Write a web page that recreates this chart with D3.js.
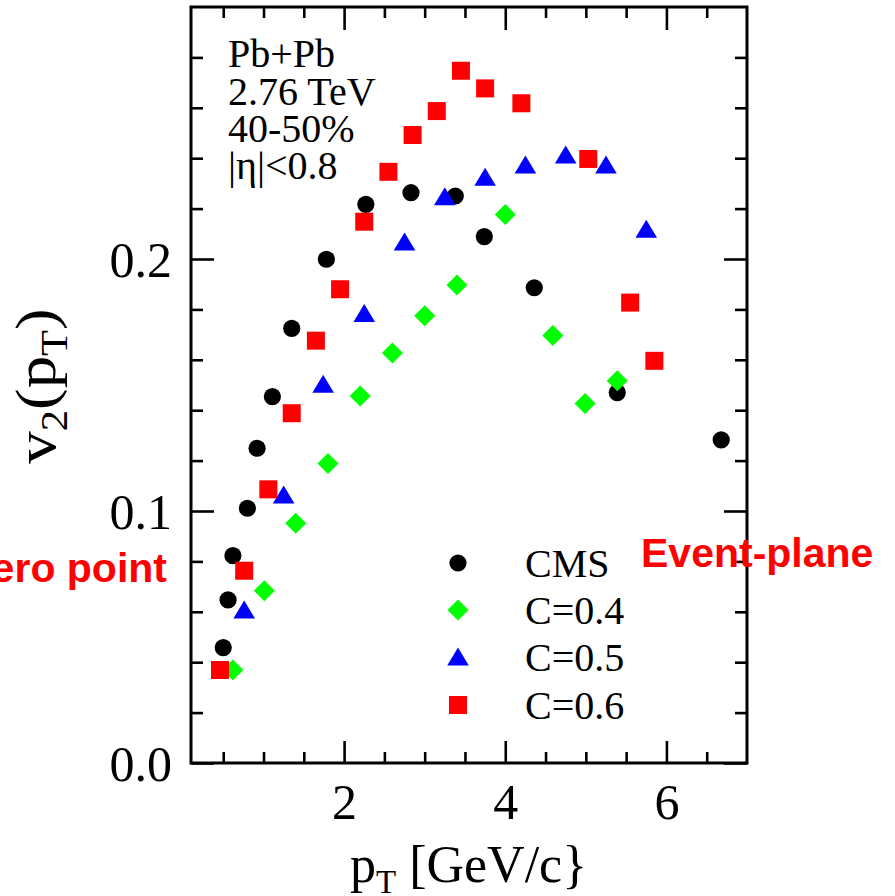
<!DOCTYPE html>
<html>
<head>
<meta charset="utf-8">
<script src="https://cdn.jsdelivr.net/npm/d3@7"></script>
<style>
  html, body { margin: 0; padding: 0; background: #fff; }
  svg { display: block; }
  text { font-family: "Liberation Serif", "Times New Roman", serif; fill: #000; }
</style>
</head>
<body>
<svg id="chart" width="895" height="896"></svg>
<script>
// ---------------- data ----------------
const cmsPt  = [0.50, 0.56, 0.62, 0.80, 0.92, 1.11, 1.35, 1.78, 2.27, 2.83, 3.38, 3.74, 4.36, 5.39, 6.68];
const cmsV2  = [0.0458, 0.0647, 0.0823, 0.1011, 0.1249, 0.1454, 0.1725, 0.1999, 0.2217, 0.2263, 0.2250, 0.2089, 0.1886, 0.1470, 0.1282];

const c04Pt  = [0.62, 1.01, 1.40, 1.80, 2.20, 2.60, 3.00, 3.40, 4.00, 4.59, 4.99, 5.39];
const c04V2  = [0.0369, 0.0684, 0.0951, 0.1188, 0.1456, 0.1627, 0.1775, 0.1897, 0.2177, 0.1696, 0.1427, 0.1517];

const c05Pt  = [0.76, 1.25, 1.74, 2.25, 2.75, 3.25, 3.75, 4.25, 4.75, 5.25, 5.75];
const c05V2  = [0.0607, 0.1063, 0.1503, 0.1784, 0.2067, 0.2247, 0.2324, 0.2373, 0.2413, 0.2373, 0.2118];

const c06Pt  = [0.46, 0.76, 1.06, 1.35, 1.65, 1.95, 2.25, 2.55, 2.85, 3.15, 3.45, 3.75, 4.20, 5.03, 5.55, 5.85];
const c06V2  = [0.0369, 0.0763, 0.1086, 0.1388, 0.1676, 0.1880, 0.2148, 0.2346, 0.2492, 0.2587, 0.2747, 0.2677, 0.2618, 0.2397, 0.1827, 0.1596];

const seriesNames = ["CMS", "C=0.4", "C=0.5", "C=0.6"];
const xMajorTicks = [2, 4, 6];
const xMinorTicks = [0.5, 1, 1.5, 2.5, 3, 3.5, 4.5, 5, 5.5, 6.5];
const yMajorTicks = [0.0, 0.1, 0.2];
const yMinorTicks = [0.02, 0.04, 0.06, 0.08, 0.12, 0.14, 0.16, 0.18, 0.22, 0.24, 0.26, 0.28];
const infoLines = ["Pb+Pb", "2.76 TeV", "40-50%", "|η|<0.8"];

// ---------------- layout ----------------
const svg = d3.select("#chart");
const L = 191, R = 747, T = 7, B = 763;
const x = d3.scaleLinear().domain([0.1, 7]).range([L, R]);
const y = d3.scaleLinear().domain([0, 0.3]).range([B, T]);

const series = [
  {name: seriesNames[0], pt: cmsPt, v2: cmsV2, color: "#000000", shape: "circle"},
  {name: seriesNames[1], pt: c04Pt, v2: c04V2, color: "#00ff00", shape: "diamond"},
  {name: seriesNames[2], pt: c05Pt, v2: c05V2, color: "#0000ff", shape: "triangle"},
  {name: seriesNames[3], pt: c06Pt, v2: c06V2, color: "#ff0000", shape: "square"}
];

function shapePath(shape) {
  switch (shape) {
    case "circle": {
      const p = d3.path(); p.arc(0, 0, 8.6, 0, 2 * Math.PI); return p.toString();
    }
    case "diamond": return "M0,-10.5L10.5,0L0,10.5L-10.5,0Z";
    case "triangle": return "M0,-9.5L10.8,8.5L-10.8,8.5Z";
    case "square": return "M-9,-9H9V9H-9Z";
  }
}

// annotations (red), behind frame
svg.append("text")
  .attr("x", 167).attr("y", 582)
  .attr("text-anchor", "end")
  .style("font-family", "'Liberation Sans', Arial, sans-serif")
  .style("font-weight", "bold").style("font-size", "41px")
  .style("fill", "#ff0000")
  .text("Zero point");

// axes
function styleAxis(g) {
  g.select(".domain").remove();
  g.selectAll(".tick line").attr("stroke", "#000").attr("stroke-width", 2.6);
  g.selectAll(".tick text").style("font-size", "50px").attr("fill", "#000")
    .style("font-family", "'Liberation Serif', 'Times New Roman', serif");
}

svg.append("g").attr("transform", `translate(0,${B})`)
  .call(d3.axisBottom(x).tickValues(xMajorTicks).tickFormat(d3.format("d"))
        .tickSizeInner(-22).tickSizeOuter(0).tickPadding(20))
  .call(styleAxis);
svg.append("g").attr("transform", `translate(0,${B})`)
  .call(d3.axisBottom(x).tickValues(xMinorTicks).tickFormat("")
        .tickSizeInner(-11).tickSizeOuter(0))
  .call(styleAxis);
svg.append("g").attr("transform", `translate(0,${T})`)
  .call(d3.axisTop(x).tickValues(xMajorTicks).tickFormat("")
        .tickSizeInner(-23).tickSizeOuter(0))
  .call(styleAxis);
svg.append("g").attr("transform", `translate(0,${T})`)
  .call(d3.axisTop(x).tickValues(xMinorTicks).tickFormat("")
        .tickSizeInner(-11).tickSizeOuter(0))
  .call(styleAxis);

svg.append("g").attr("transform", `translate(${L},0)`)
  .call(d3.axisLeft(y).tickValues(yMajorTicks).tickFormat(d3.format(".1f"))
        .tickSizeInner(-23).tickSizeOuter(0).tickPadding(19))
  .call(styleAxis)
  .call(g => g.selectAll(".tick text").attr("dy", "0.35em"));
svg.append("g").attr("transform", `translate(${L},0)`)
  .call(d3.axisLeft(y).tickValues(yMinorTicks).tickFormat("")
        .tickSizeInner(-12).tickSizeOuter(0))
  .call(styleAxis);
svg.append("g").attr("transform", `translate(${R},0)`)
  .call(d3.axisRight(y).tickValues(yMajorTicks).tickFormat("")
        .tickSizeInner(-23).tickSizeOuter(0))
  .call(styleAxis);
svg.append("g").attr("transform", `translate(${R},0)`)
  .call(d3.axisRight(y).tickValues(yMinorTicks).tickFormat("")
        .tickSizeInner(-12).tickSizeOuter(0))
  .call(styleAxis);

// frame
svg.append("rect")
  .attr("x", L).attr("y", T).attr("width", R - L).attr("height", B - T)
  .attr("fill", "none").attr("stroke", "#000").attr("stroke-width", 3);

// data points
series.forEach(s => {
  svg.append("g").selectAll("path")
    .data(s.pt.map((p, i) => [p, s.v2[i]]))
    .join("path")
    .attr("d", shapePath(s.shape))
    .attr("transform", d => `translate(${x(d[0])},${y(d[1])})`)
    .attr("fill", s.color);
});

// Event-plane label (drawn over the frame)
svg.append("text")
  .attr("x", 641).attr("y", 567)
  .style("font-family", "'Liberation Sans', Arial, sans-serif")
  .style("font-weight", "bold").style("font-size", "41px")
  .style("fill", "#ff0000")
  .text("Event-plane");

// info text
const info = svg.append("g");
const infoY = [67, 105, 142, 179];
infoLines.forEach((t, i) => {
  info.append("text").attr("x", 228).attr("y", infoY[i])
    .style("font-size", "40px").text(t);
});

// legend
const legend = svg.append("g");
const legY = [563, 610, 657, 705];
series.forEach((s, i) => {
  legend.append("path").attr("d", shapePath(s.shape))
    .attr("transform", `translate(458,${legY[i]})`).attr("fill", s.color);
  legend.append("text").attr("x", 525).attr("y", legY[i] + 14)
    .style("font-size", "40px").text(s.name);
});

// x-axis title
const xt = svg.append("text").attr("x", 350).attr("y", 882).style("font-size", "52px");
xt.append("tspan").text("p");
xt.append("tspan").attr("dy", 11).style("font-size", "33px").text("T");
xt.append("tspan").attr("dy", -11).text(" [GeV/c}");

// y-axis title
const yt = svg.append("text")
  .attr("transform", "translate(55,386) rotate(-90) scale(1.12,1)")
  .attr("text-anchor", "middle").style("font-size", "58px");
yt.append("tspan").text("v");
yt.append("tspan").attr("dy", 12).style("font-size", "38px").text("2");
yt.append("tspan").attr("dy", -12).text("(p");
yt.append("tspan").attr("dy", 12).style("font-size", "38px").text("T");
yt.append("tspan").attr("dy", -12).text(")");
</script>
</body>
</html>
